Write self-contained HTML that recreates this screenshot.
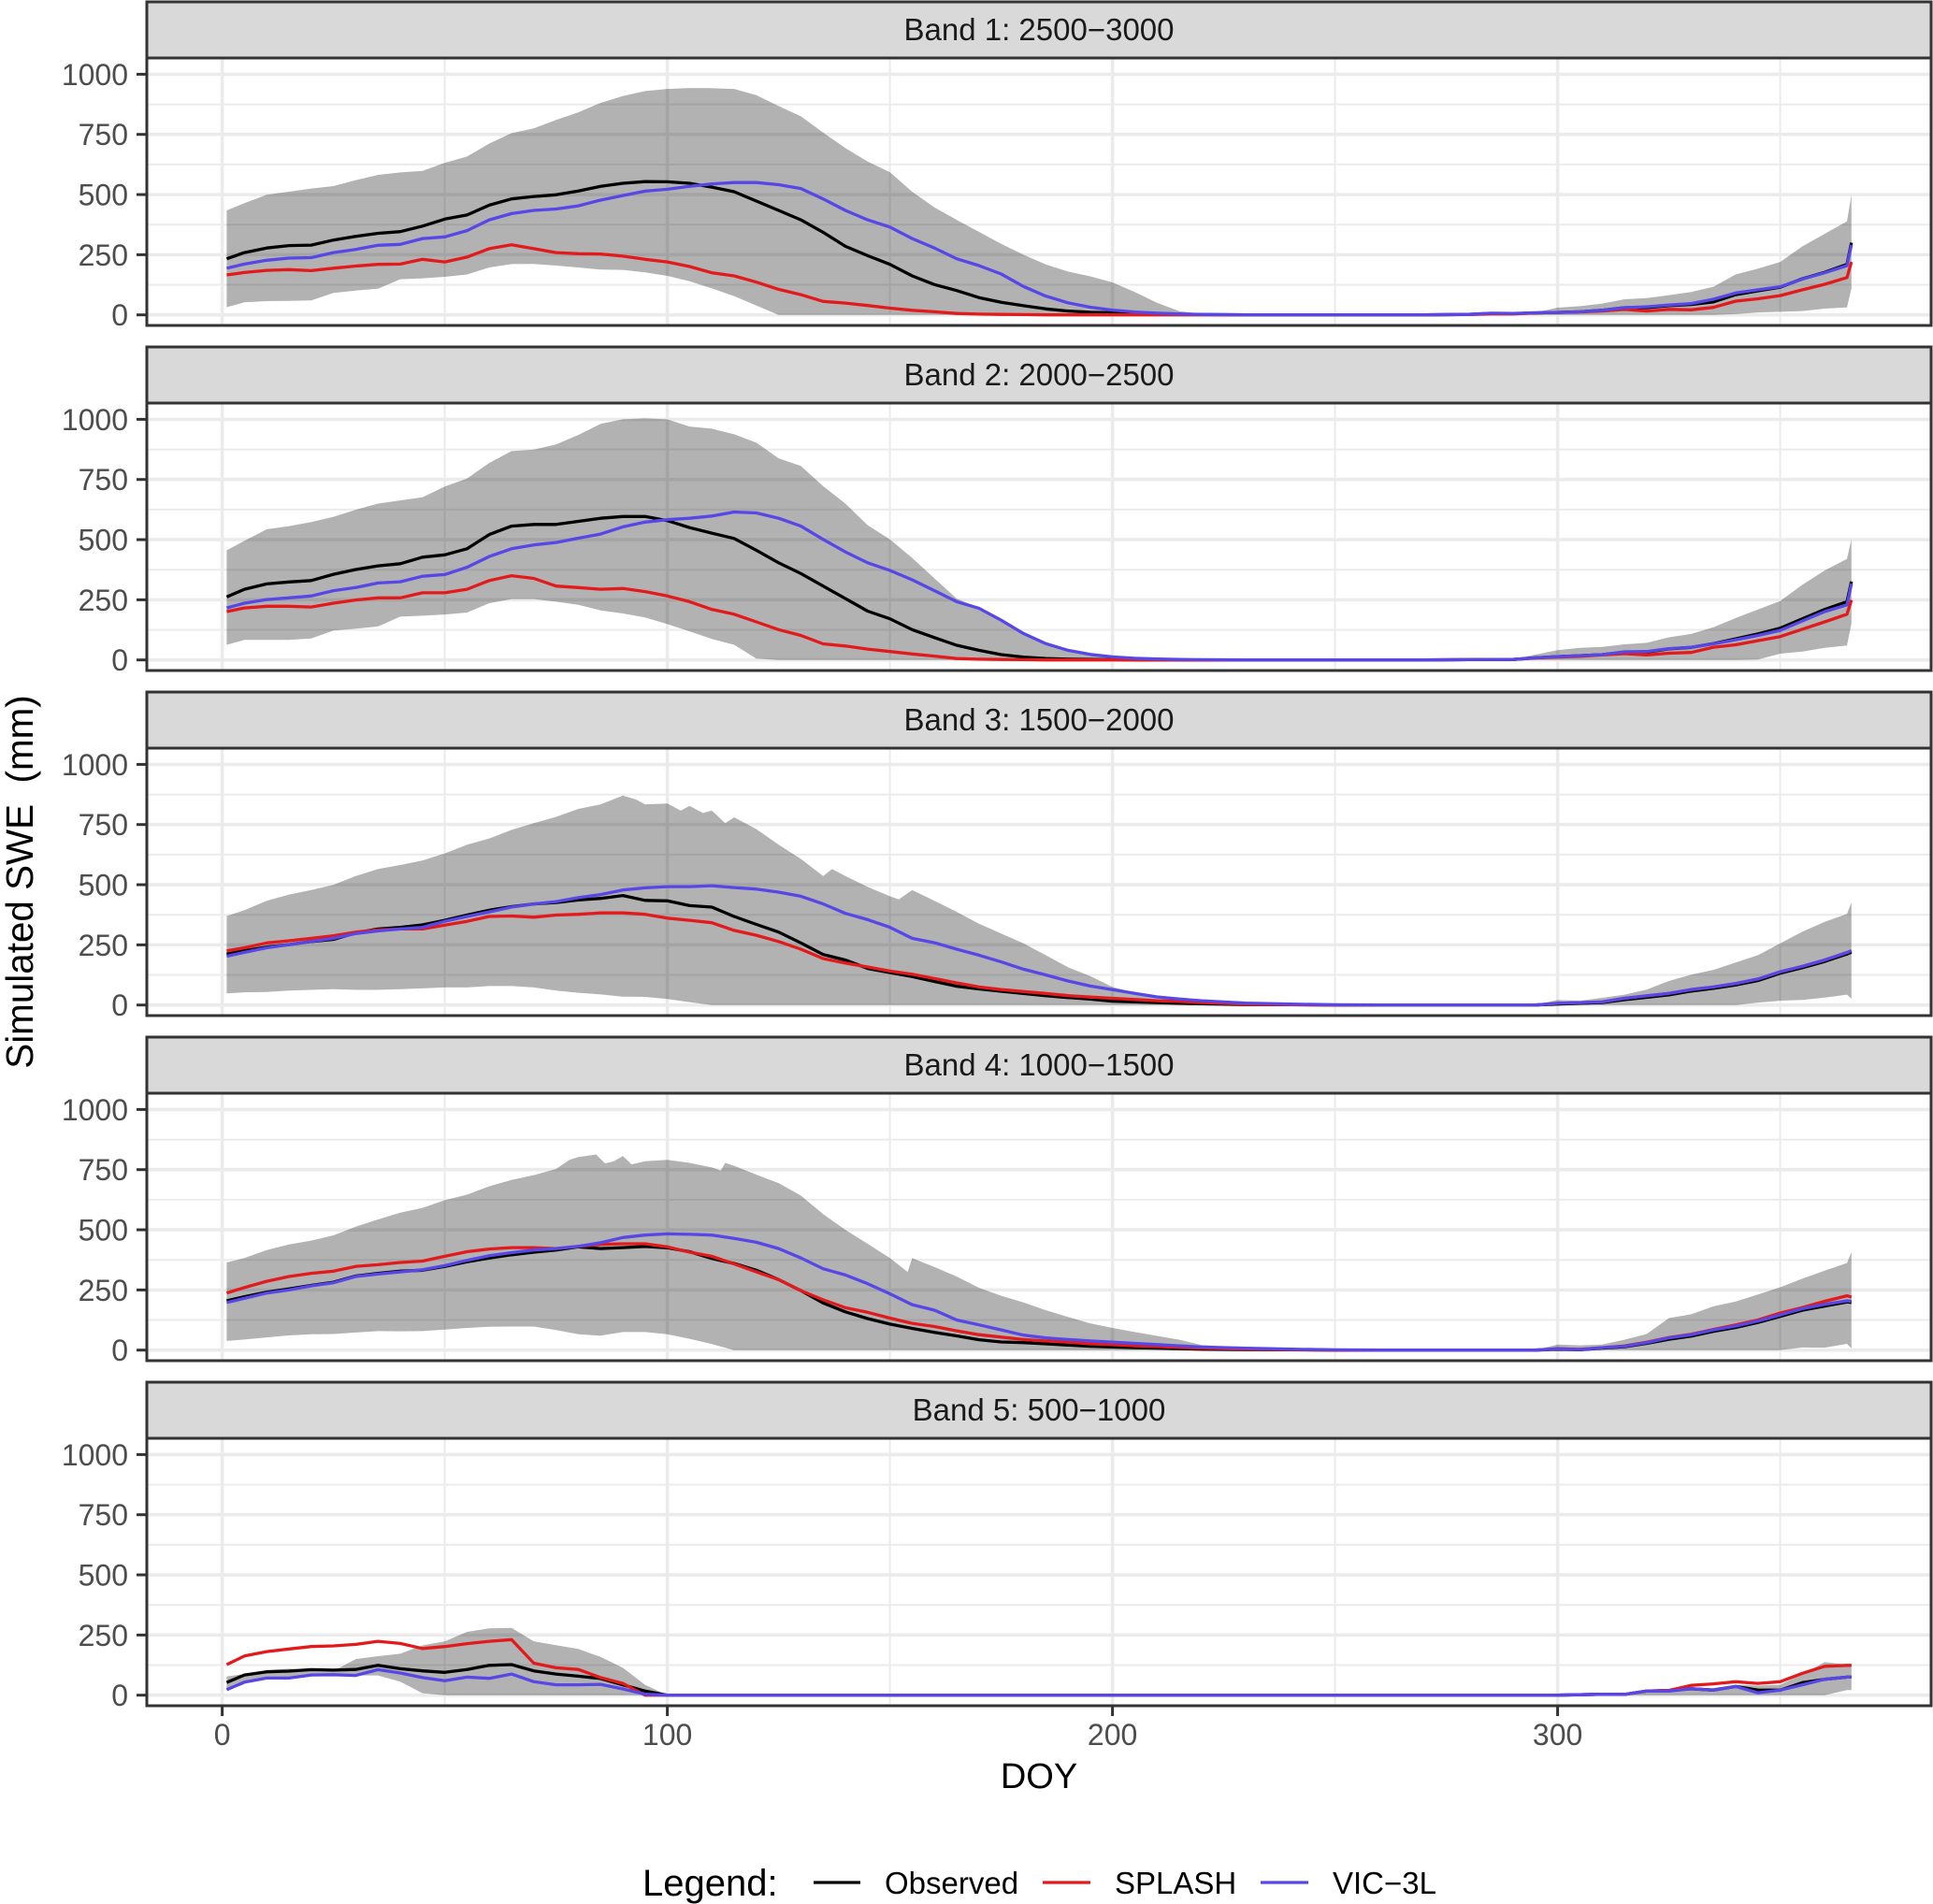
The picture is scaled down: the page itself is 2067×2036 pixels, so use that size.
<!DOCTYPE html>
<html lang="en">
<head>
<meta charset="utf-8">
<title>Simulated SWE by elevation band</title>
<style>
html,body{margin:0;padding:0;background:#fff;}
svg{display:block;font-family:"Liberation Sans",Arial,sans-serif;}
</style>
</head>
<body>
<svg id="chart" xmlns="http://www.w3.org/2000/svg" width="2067" height="2036" viewBox="0 0 2067 2036">
  <rect x="0" y="0" width="2067" height="2036" fill="#fff"/>
  <g id="panels"></g>
  <text x="0" y="0" transform="translate(35,943) rotate(-90)" text-anchor="middle" font-size="40.4" fill="#000" xml:space="preserve">Simulated SWE  (mm)</text>
  <text x="1111" y="1912" text-anchor="middle" font-size="38" fill="#000">DOY</text>
  <g>
    <text x="687" y="2027" font-size="40" fill="#000">Legend:</text>
    <line x1="870" x2="920" y1="2013" y2="2013" stroke="#000" stroke-width="3.3"/>
    <text x="946" y="2025" font-size="33" fill="#000">Observed</text>
    <line x1="1115" x2="1166" y1="2013" y2="2013" stroke="#e31a1c" stroke-width="3.3"/>
    <text x="1192" y="2025" font-size="33" fill="#000">SPLASH</text>
    <line x1="1348" x2="1399" y1="2013" y2="2013" stroke="#5647e6" stroke-width="3.3"/>
    <text x="1425" y="2025" font-size="33" fill="#000">VIC−3L</text>
  </g>
</svg>
<script>
const stripLabels = ["Band 1: 2500−3000","Band 2: 2000−2500","Band 3: 1500−2000","Band 4: 1000−1500","Band 5: 500−1000"];
const yTickValues = [0,250,500,750,1000];
const yMinorValues = [125,375,625,875];
const xTickValues = [0,100,200,300];
const xMinorValues = [50,150,250,350];

const gridDoy = [1,5,10,15,20,25,30,35,40,45,
  50,55,60,65,70,75,80,85,90,95,
  100,105,110,115,120,125,130,135,140,145,
  150,155,160,165,170,175,180,185,190,195,
  200,205,210,215,220,230,240,250,260,270,280,
  285,290,295,300,305,310,315,320,325,330,
  335,340,345,350,355,360,365,366];

/* Band 1 */
const band1Upper = [434,464,499,512,525,535,560,582,592,598,
  632,658,712,755,775,810,842,881,909,930,
  939,943,942,939,913,868,825,758,693,637,
  593,512,447,395,345,295,250,210,180,160,
  135,95,50,15,5,0,0,0,0,0,2,
  8,6,10,30,36,47,65,70,82,95,
  117,168,192,220,285,337,389,499];
const band1Lower = [32,52,57,58,60,91,101,109,148,152,
  158,168,197,211,212,205,197,188,187,177,
  162,140,110,78,39,0,0,0,0,0,
  0,0,0,0,0,0,0,0,0,0,
  0,0,0,0,0,0,0,0,0,0,0,
  0,0,0,0,0,0,0,0,0,0,
  0,3,10,13,16,26,31,110];
const band1Observed = [233,259,278,288,290,311,326,339,346,369,
  398,415,456,482,492,499,515,534,547,554,
  553,547,531,512,473,434,395,343,285,246,
  210,162,126,101,72,52,38,25,16,11,
  9,6,4,2,1,0,0,0,0,0,2,
  6,5,8,10,13,19,30,30,38,43,
  54,84,100,115,150,177,210,300];
const band1Splash = [166,176,185,188,184,194,203,210,211,231,
  220,240,275,291,275,259,254,253,244,231,
  220,201,175,162,136,106,84,56,49,39,
  28,19,13,6,3,2,1,0,0,0,
  0,0,0,0,0,0,0,0,0,0,1,
  4,4,8,10,12,16,23,16,23,21,
  31,57,67,80,104,127,155,220];
const band1Vic = [194,211,227,236,238,259,272,289,293,317,
  324,350,395,421,434,440,453,477,496,514,
  522,534,544,550,550,541,525,482,434,395,
  365,317,278,233,205,170,118,78,50,32,
  20,12,7,4,2,0,0,0,0,0,2,
  7,6,9,10,13,19,30,34,41,47,
  65,91,104,117,149,175,205,291];

/* Band 2 */
const band2Upper = [456,495,543,556,573,595,624,650,663,676,
  721,754,819,868,874,896,935,981,1000,1004,
  1000,970,961,938,903,838,806,722,650,560,
  501,424,339,255,218,165,110,65,35,18,
  10,6,3,2,1,0,0,0,0,0,1,
  3,3,22,41,50,54,65,71,94,108,
  136,174,210,245,313,372,420,501];
const band2Lower = [63,83,83,83,89,122,130,139,180,184,
  189,197,236,253,253,242,229,206,193,177,
  149,119,87,63,6,0,0,0,0,0,
  0,0,0,0,0,0,0,0,0,0,
  0,0,0,0,0,0,0,0,0,0,0,
  0,0,0,0,0,0,0,0,0,0,
  0,0,2,26,35,50,60,151];
const band2Observed = [262,294,316,324,330,356,376,391,400,427,
  437,462,521,556,563,563,576,589,596,596,
  579,550,527,505,456,404,359,307,255,203,
  171,126,93,61,40,22,12,6,3,2,
  1,0,0,0,0,0,0,0,0,0,1,
  2,2,9,14,18,22,32,33,46,52,
  68,88,108,132,171,210,242,326];
const band2Splash = [201,216,223,223,220,236,249,258,258,279,
  279,294,330,350,339,307,301,294,297,284,
  266,242,210,190,158,126,102,67,58,45,
  35,25,16,6,3,2,1,0,0,0,
  0,0,0,0,0,0,0,0,0,0,1,
  2,2,8,12,15,21,26,21,28,31,
  53,63,80,97,128,158,190,249];
const band2Vic = [216,236,251,258,266,288,301,320,325,348,
  355,385,430,462,478,488,506,523,553,573,
  583,589,598,615,611,589,556,501,449,404,
  372,333,288,242,215,165,110,68,40,23,
  13,7,4,2,1,0,0,0,0,0,1,
  2,2,9,14,18,22,34,35,47,53,
  67,84,102,123,162,201,229,317];

/* Band 3 */
const band3UpperDoy = [1,5,10,15,20,25,30,35,40,45,
  50,55,60,65,70,75,80,85,90,
  93,95,100,103,105,108,110,113,115,
  120,125,130,135,137,140,145,150,152,155,
  160,165,170,175,180,185,190,195,200,
  205,210,215,220,225,230,235,240,250,
  260,270,280,290,295,300,305,310,315,320,
  325,330,335,340,345,350,355,360,365,366];
const band3Upper = [370,394,433,459,478,500,536,565,582,601,
  630,666,692,728,756,782,815,834,870,
  854,834,837,808,828,798,808,756,780,
  731,666,607,536,565,536,491,452,439,478,
  433,387,338,297,256,207,157,120,75,
  51,34,25,15,10,6,3,2,0,
  0,0,0,0,1,21,18,30,43,64,
  100,126,146,177,207,256,305,346,379,425];
const band3Lower = [48,53,54,60,63,66,63,63,66,69,
  73,73,79,79,73,60,51,44,35,34,
  25,12,0,0,0,0,0,0,0,0,
  0,0,0,0,0,0,0,0,0,0,
  0,0,0,0,0,0,0,0,0,0,0,
  0,0,0,0,0,0,0,0,0,0,
  0,0,10,18,21,31,43,26];
const band3Observed = [212,225,241,251,264,273,300,316,323,333,
  352,374,394,409,420,426,437,443,455,435,
  433,413,407,368,335,303,258,210,187,152,
  135,118,98,78,67,57,48,39,31,25,
  16,13,10,7,5,2,1,0,0,0,0,
  0,0,0,4,7,10,22,32,42,58,
  69,83,102,132,155,181,212,220];
const band3Splash = [225,238,258,267,277,288,303,312,316,316,
  332,348,368,370,365,374,377,383,383,377,
  361,352,342,310,290,264,232,193,174,158,
  141,128,110,92,75,64,56,48,39,33,
  28,23,18,15,10,4,1,0,0,0,0,
  0,0,0,7,10,13,28,38,48,64,
  75,89,108,138,161,187,218,226];
const band3Vic = [203,219,238,251,264,277,297,308,316,323,
  348,368,387,407,420,430,446,459,478,487,
  492,492,496,488,482,469,452,420,381,355,
  323,277,259,232,207,179,149,125,100,79,
  64,48,34,25,18,8,4,1,0,0,0,
  0,0,0,7,10,13,28,38,48,64,
  75,89,108,138,161,187,218,226];

/* Band 4 */
const band4UpperDoy = [1,5,10,15,20,25,30,35,40,45,
  50,55,60,65,70,75,
  78,80,84,86,88,90,92,95,
  100,105,110,112,113,115,
  120,125,130,135,140,145,150,154,155,
  160,165,170,175,180,185,190,195,200,
  205,210,215,220,225,230,235,240,250,
  260,270,280,290,295,300,305,310,315,320,
  325,330,335,340,345,350,355,360,365,366];
const band4Upper = [364,383,416,439,455,477,513,543,571,591,
  623,646,681,707,727,753,
  791,802,813,776,785,807,772,785,
  791,778,759,746,778,766,
  729,694,642,565,500,442,383,325,383,
  345,306,259,226,198,166,138,111,92,
  75,59,43,21,15,10,6,3,1,
  0,0,0,0,1,23,20,23,43,67,
  133,149,182,202,231,261,297,330,362,407];
const band4Lower = [38,44,53,61,66,67,73,79,78,79,
  85,92,97,98,98,83,66,60,75,75,
  66,47,25,0,0,0,0,0,0,0,
  0,0,0,0,0,0,0,0,0,0,
  0,0,0,0,0,0,0,0,0,0,0,
  0,0,0,0,0,0,0,0,0,0,
  0,0,0,0,11,10,26,7];
const band4Observed = [205,222,241,254,269,282,308,319,328,332,
  348,367,383,396,407,416,429,422,426,431,
  425,409,381,360,332,293,247,196,159,131,
  108,90,74,59,43,34,31,26,21,16,
  13,10,8,6,4,2,1,0,0,0,0,
  0,0,0,3,1,8,14,28,45,58,
  78,94,115,140,166,183,200,198];
const band4Splash = [237,260,286,306,319,328,348,355,364,370,
  390,409,420,426,426,422,431,439,442,442,
  429,407,390,358,325,293,247,209,176,157,
  133,111,98,80,64,54,44,38,33,26,
  23,18,15,11,8,4,2,0,0,0,0,
  0,0,0,6,3,10,17,33,52,66,
  86,105,125,154,177,203,226,220];
const band4Vic = [198,215,237,250,267,280,306,316,325,334,
  351,373,392,405,416,422,431,446,468,478,
  483,481,478,464,448,422,383,338,312,276,
  234,189,166,125,105,84,62,51,44,38,
  33,28,23,18,13,8,4,1,0,0,0,
  0,0,0,5,2,10,16,31,51,64,
  84,100,121,146,172,190,205,203];

/* Band 5 */
const band5Upper = [78,88,104,110,107,101,150,162,172,207,
  224,263,278,280,224,208,192,159,114,43,
  0,0,0,0,0,0,0,0,0,0,
  0,0,0,0,0,0,0,0,0,0,
  0,0,0,0,0,0,0,0,0,0,0,
  0,0,0,0,2,6,4,18,20,32,
  30,43,40,43,88,137,127,127];
const band5Lower = [23,54,71,71,84,85,82,82,56,8,
  0,0,0,0,0,0,0,0,0,0,
  0,0,0,0,0,0,0,0,0,0,
  0,0,0,0,0,0,0,0,0,0,
  0,0,0,0,0,0,0,0,0,0,0,
  0,0,0,0,0,0,0,0,0,0,
  0,0,0,0,0,0,21,21];
const band5Observed = [53,84,97,100,106,104,107,124,110,101,
  95,107,124,127,101,88,79,69,43,17,
  0,0,0,0,0,0,0,0,0,0,
  0,0,0,0,0,0,0,0,0,0,
  0,0,0,0,0,0,0,0,0,0,0,
  0,0,0,0,2,4,3,17,20,27,
  21,36,21,21,52,66,75,75];
const band5Splash = [127,163,181,192,202,205,211,224,215,194,
  202,214,224,231,133,114,107,73,49,0,
  0,0,0,0,0,0,0,0,0,0,
  0,0,0,0,0,0,0,0,0,0,
  0,0,0,0,0,0,0,0,0,0,0,
  0,0,0,0,2,4,3,17,20,41,
  47,56,49,56,91,120,124,124];
const band5Vic = [23,54,71,71,84,85,82,106,92,73,
  60,75,70,88,56,43,43,45,26,4,
  0,0,0,0,0,0,0,0,0,0,
  0,0,0,0,0,0,0,0,0,0,
  0,0,0,0,0,0,0,0,0,0,0,
  0,0,0,0,2,4,3,17,17,27,
  21,36,10,21,43,66,75,75];

const upperDoyByBand = [gridDoy,gridDoy,band3UpperDoy,band4UpperDoy,gridDoy];
const upperByBand = [band1Upper,band2Upper,band3Upper,band4Upper,band5Upper];
const lowerByBand = [band1Lower,band2Lower,band3Lower,band4Lower,band5Lower];
const observedByBand = [band1Observed,band2Observed,band3Observed,band4Observed,band5Observed];
const splashByBand = [band1Splash,band2Splash,band3Splash,band4Splash,band5Splash];
const vicByBand = [band1Vic,band2Vic,band3Vic,band4Vic,band5Vic];

const SVGNS = "http://www.w3.org/2000/svg";
const panelLeft = 157, panelRight = 2065, panelStep = 369;
const stripTop = 2, stripHeight = 60, panelTop = 62, panelHeight = 286;
const zeroY = 336.7, yPerUnit = 0.2573;
const zeroX = 237.6, xPerDay = 4.76;

function xScale(doy){ return zeroX + xPerDay * doy; }
function yScale(bandIndex, value){ return zeroY + panelStep * bandIndex - yPerUnit * value; }

function make(tag, attrs, parent, text){
  const el = document.createElementNS(SVGNS, tag);
  for (const k in attrs) el.setAttribute(k, attrs[k]);
  if (text !== undefined) el.textContent = text;
  parent.appendChild(el);
  return el;
}

function linePath(bandIndex, xs, ys){
  let d = "";
  const n = Math.min(xs.length, ys.length);
  for (let i = 0; i < n; i++){
    d += (i ? "L" : "M") + xScale(xs[i]).toFixed(1) + " " + yScale(bandIndex, ys[i]).toFixed(1);
  }
  return d;
}

function ribbonPath(bandIndex, upperXs, upper, lowerXs, lower){
  let d = linePath(bandIndex, upperXs, upper);
  for (let i = Math.min(lowerXs.length, lower.length) - 1; i >= 0; i--){
    d += "L" + xScale(lowerXs[i]).toFixed(1) + " " + yScale(bandIndex, lower[i]).toFixed(1);
  }
  return d + "Z";
}

const root = document.getElementById("panels");
stripLabels.forEach(function(label, b){
  const off = panelStep * b;
  const g = make("g", {}, root);
  
  

  const strip = make("rect", {x:panelLeft, y:stripTop + off, width:panelRight - panelLeft, height:stripHeight, fill:"#d9d9d9", stroke:"#333", "stroke-width":3}, g);
  
  

  const stripText = make("text", {x:(panelLeft + panelRight) / 2, y:stripTop + off + 41, "text-anchor":"middle", "font-size":33, fill:"#1a1a1a"}, g, label);
  
  

  const bg = make("rect", {x:panelLeft, y:panelTop + off, width:panelRight - panelLeft, height:panelHeight, fill:"#fff"}, g);
  
  

  yMinorValues.forEach(function(v){
    const l = make("line", {x1:panelLeft, x2:panelRight, y1:yScale(b, v), y2:yScale(b, v), stroke:"#ebebeb", "stroke-width":2}, g);
    
    
  });
  xMinorValues.forEach(function(v){
    const l = make("line", {x1:xScale(v), x2:xScale(v), y1:panelTop + off, y2:panelTop + off + panelHeight, stroke:"#ebebeb", "stroke-width":2}, g);
    
    
  });
  yTickValues.forEach(function(v){
    const l = make("line", {x1:panelLeft, x2:panelRight, y1:yScale(b, v), y2:yScale(b, v), stroke:"#ebebeb", "stroke-width":3.6}, g);
    
    
  });
  xTickValues.forEach(function(v){
    const l = make("line", {x1:xScale(v), x2:xScale(v), y1:panelTop + off, y2:panelTop + off + panelHeight, stroke:"#ebebeb", "stroke-width":3.6}, g);
    
    
  });

  const ribbon = make("path", {d:ribbonPath(b, upperDoyByBand[b], upperByBand[b], gridDoy, lowerByBand[b]), fill:"#000", "fill-opacity":0.3}, g);
  
  

  const obs = make("path", {d:linePath(b, gridDoy, observedByBand[b]), fill:"none", stroke:"#000", "stroke-width":3.3, "stroke-linejoin":"round"}, g);
  
  

  const spl = make("path", {d:linePath(b, gridDoy, splashByBand[b]), fill:"none", stroke:"#e31a1c", "stroke-width":3.3, "stroke-linejoin":"round"}, g);
  
  

  const vic = make("path", {d:linePath(b, gridDoy, vicByBand[b]), fill:"none", stroke:"#5647e6", "stroke-width":3.3, "stroke-linejoin":"round"}, g);
  
  

  const border = make("rect", {x:panelLeft, y:panelTop + off, width:panelRight - panelLeft, height:panelHeight, fill:"none", stroke:"#333", "stroke-width":3}, g);
  
  

  yTickValues.forEach(function(v){
    const t = make("line", {x1:146, x2:panelLeft, y1:yScale(b, v), y2:yScale(b, v), stroke:"#333", "stroke-width":3}, g);
    
    
    const lab = make("text", {x:137, y:yScale(b, v) + 11.5, "text-anchor":"end", "font-size":32, fill:"#4d4d4d"}, g, String(v));
    
    
  });

  if (b === stripLabels.length - 1){
    xTickValues.forEach(function(v){
      const t = make("line", {x1:xScale(v), x2:xScale(v), y1:panelTop + off + panelHeight, y2:panelTop + off + panelHeight + 11, stroke:"#333", "stroke-width":3}, g);
      
      
      const lab = make("text", {x:xScale(v), y:1866, "text-anchor":"middle", "font-size":32, fill:"#4d4d4d"}, g, String(v));
      
      
    });
  }
});
</script>
</body>
</html>
